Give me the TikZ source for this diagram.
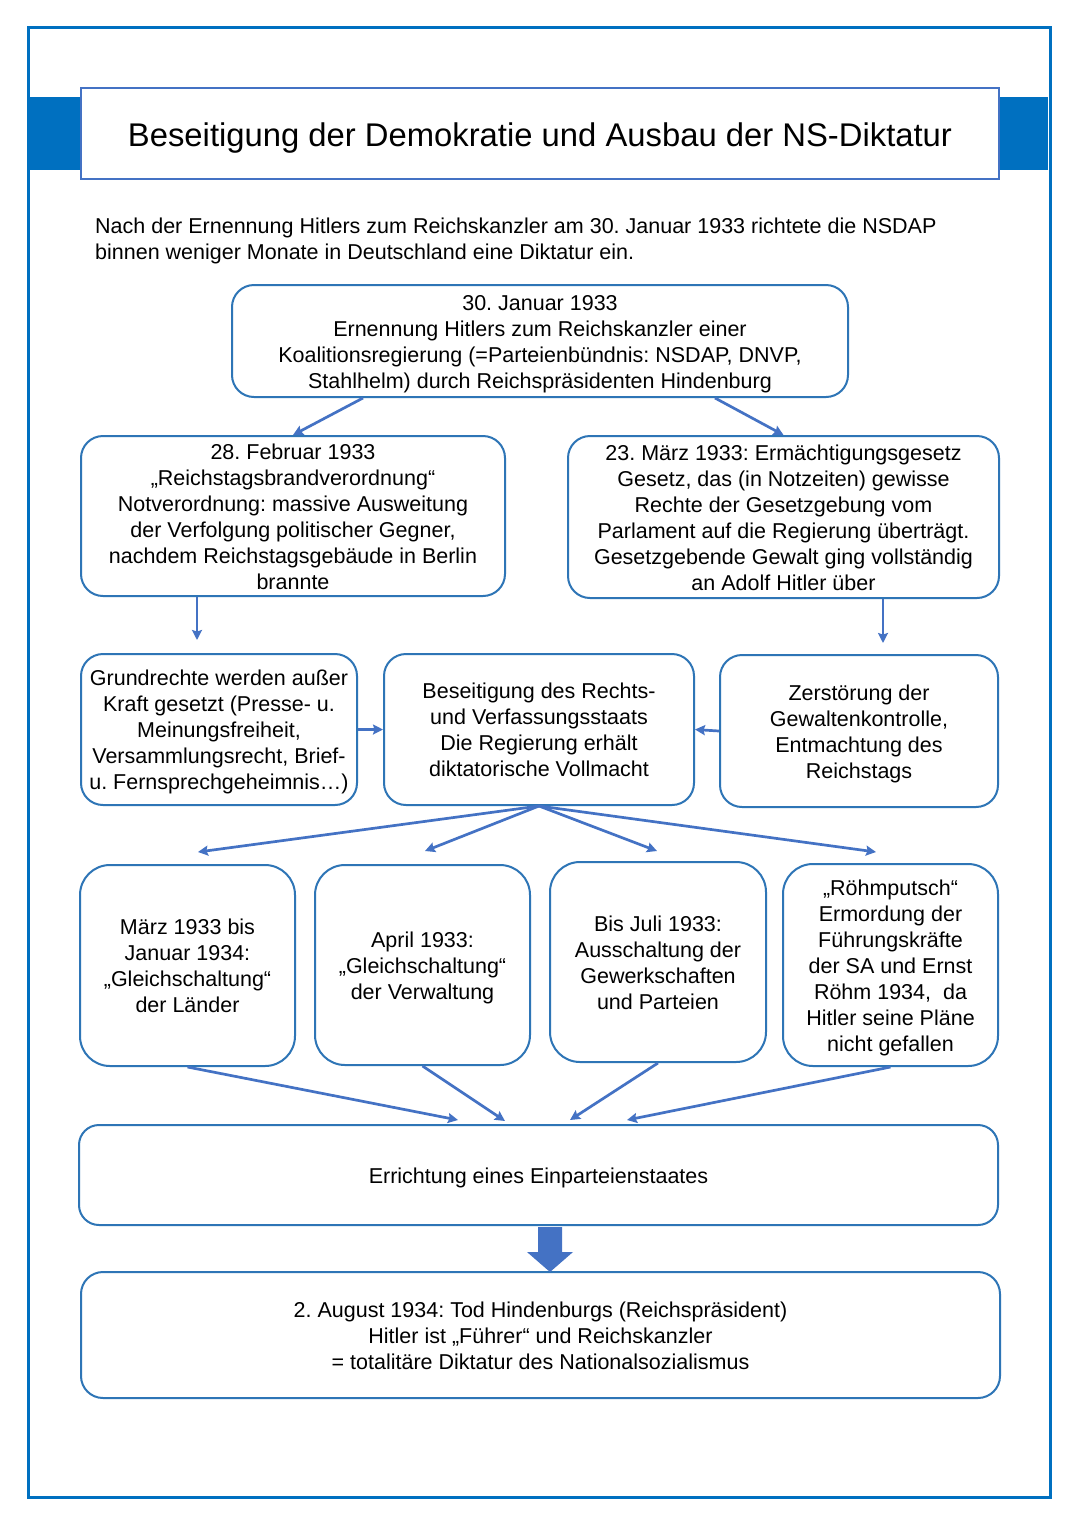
\documentclass[tikz,border=0pt]{standalone}
\usepackage{fontspec}
\setmainfont{Liberation Sans}
\usetikzlibrary{arrows.meta,calc}
\definecolor{frameblue}{RGB}{0,112,192}
\definecolor{boxblue}{RGB}{46,117,182}
\definecolor{arrowblue}{RGB}{68,114,196}
\frenchspacing
\newcommand\ms{\rule[-4.5pt]{0pt}{25pt}}
\tikzset{
  txt/.style={font=\fontsize{21.5}{26}\selectfont},
  box/.style={draw=boxblue, line width=2pt, rounded corners=22pt, align=center, inner sep=0pt, fill=white, txt},
  tallbox/.style={box, rounded corners=30pt, minimum width=215pt, minimum height=201pt},
  conn/.style={draw=arrowblue, line width=2.7pt, -{Stealth[length=10pt,width=10pt,inset=1.5pt]}},
}
\begin{document}
\begin{tikzpicture}[x=1pt,y=-1pt]
\useasboundingbox (0,0) rectangle (1080,1527);
\fill[white] (0,0) rectangle (1080,1527);
% frame and header band
\draw[frameblue, line width=3pt] (28,27) rectangle (1050,1497);
\fill[frameblue] (30,97) rectangle (1048,170);
\node[draw=arrowblue, line width=1.5pt, fill=white, minimum width=918pt, minimum height=91pt, inner sep=0pt,
      font=\fontsize{32.8}{38}\selectfont] (title) at (540,133.5)
  {\rule[-7pt]{0pt}{39pt}Beseitigung der Demokratie und Ausbau der NS-Diktatur};
% intro
\node[anchor=north west, align=left, inner sep=0pt, txt] (intro) at (95,218)
  {Nach der Ernennung Hitlers zum Reichskanzler am 30. Januar 1933 richtete die NSDAP\\
   binnen weniger Monate in Deutschland eine Diktatur ein.};
% boxes
\node[box, minimum width=616pt, minimum height=112pt] (b1) at (540,341)
  {\ms 30. Januar 1933\\Ernennung Hitlers zum Reichskanzler einer\\Koalitionsregierung (=Parteienbündnis: NSDAP, DNVP,\\Stahlhelm) durch Reichspräsidenten Hindenburg\ms};
\node[box, minimum width=424pt, minimum height=160pt] (b2) at (293,516)
  {\ms 28. Februar 1933\\„Reichstagsbrandverordnung“\\Notverordnung: massive Ausweitung\\der Verfolgung politischer Gegner,\\nachdem Reichstagsgebäude in Berlin\\brannte\ms};
\node[box, minimum width=431pt, minimum height=162pt] (b3) at (783.5,517)
  {\ms 23. März 1933: Ermächtigungsgesetz\\Gesetz, das (in Notzeiten) gewisse\\Rechte der Gesetzgebung vom\\Parlament auf die Regierung überträgt.\\Gesetzgebende Gewalt ging vollständig\\an Adolf Hitler über\ms};
\node[box, minimum width=276pt, minimum height=151pt] (b4) at (219,729.5)
  {\ms Grundrechte werden außer\\Kraft gesetzt (Presse- u.\\Meinungsfreiheit,\\Versammlungsrecht, Brief-\\u. Fernsprechgeheimnis…)\ms};
\node[box, minimum width=310pt, minimum height=151pt] (b5) at (539,729.5)
  {\ms Beseitigung des Rechts-\\und Verfassungsstaats\\Die Regierung erhält\\diktatorische Vollmacht\ms};
\node[box, minimum width=278pt, minimum height=152pt] (b6) at (859,731)
  {\ms Zerstörung der\\Gewaltenkontrolle,\\Entmachtung des\\Reichstags\ms};
\node[tallbox] (b7) at (187.5,965.5)
  {\ms März 1933 bis\\Januar 1934:\\„Gleichschaltung“\\der Länder\ms};
\node[tallbox, minimum height=200pt] (b8) at (422.5,965)
  {\ms April 1933:\\„Gleichschaltung“\\der Verwaltung\ms};
\node[tallbox, minimum width=216pt, minimum height=200pt] (b9) at (658,962)
  {\ms Bis Juli 1933:\\Ausschaltung der\\Gewerkschaften\\und Parteien\ms};
\node[tallbox, minimum height=202pt] (b10) at (890.5,965)
  {\ms „Röhmputsch“\\Ermordung der\\Führungskräfte\\der SA und Ernst\\Röhm 1934, \ da\\Hitler seine Pläne\\nicht gefallen\ms};
\node[box, rounded corners=20pt, minimum width=919pt, minimum height=100pt] (b11) at (538.5,1175)
  {\ms Errichtung eines Einparteienstaates\ms};
\node[box, minimum width=919pt, minimum height=126pt] (b12) at (540.5,1335)
  {\ms 2. August 1934: Tod Hindenburgs (Reichspräsident)\\Hitler ist „Führer“ und Reichskanzler\\= totalitäre Diktatur des Nationalsozialismus\ms};
% connectors
\draw[conn] ([xshift=-177pt]b1.south) -- (b2.north);
\draw[conn] ([xshift=175pt]b1.south) -- (b3.north);
\coordinate (e4) at (197,640);
\coordinate (e6) at (883,643);
\draw[conn] ([xshift=-96pt]b2.south) -- (e4);
\draw[conn] ([xshift=99.5pt]b3.south) -- (e6);
\draw[conn] (b4.east) -- (b5.west);
\draw[conn] (b6.west) -- (b5.east);
\coordinate (f7) at (198,852);
\coordinate (f8) at (425,851);
\coordinate (f9) at (657,851);
\coordinate (f10) at (876,852);
\draw[conn] (b5.south) -- (f7);
\draw[conn] (b5.south) -- (f8);
\draw[conn] (b5.south) -- (f9);
\draw[conn] (b5.south) -- (f10);
\draw[conn] (b7.south) -- ([xshift=-80.5pt,yshift=4pt]b11.north);
\draw[conn] (b8.south) -- ([xshift=-33.5pt,yshift=3pt]b11.north);
\draw[conn] (b9.south) -- ([xshift=31.5pt,yshift=4pt]b11.north);
\draw[conn] (b10.south) -- ([xshift=88.5pt,yshift=4pt]b11.north);
% block arrow
\coordinate (ba) at ([xshift=11.5pt]b11.south);
\fill[arrowblue] ($(ba)+(-12,1)$) -- ($(ba)+(12,1)$) -- ($(ba)+(12,26)$) -- ($(ba)+(23,26)$)
  -- ($(ba)+(0,46)$) -- ($(ba)+(-23,26)$) -- ($(ba)+(-12,26)$) -- cycle;
\end{tikzpicture}
\end{document}
